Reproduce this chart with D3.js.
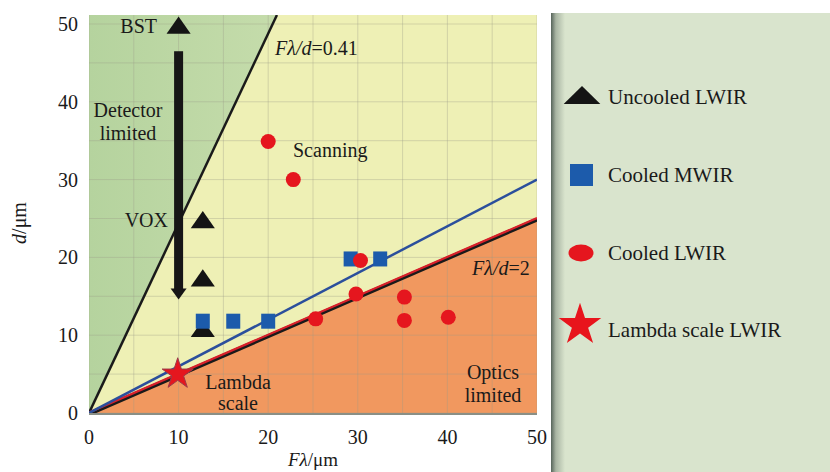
<!DOCTYPE html>
<html><head><meta charset="utf-8">
<script src="https://cdn.jsdelivr.net/npm/d3@7"></script>
<style>
html,body{margin:0;padding:0;background:#fff;}
svg{display:block;}
text{font-family:"Liberation Serif","Times New Roman",serif;fill:#1a1a1a;}
</style></head>
<body>
<svg id="c" width="830" height="472"></svg>
<script>
// ---- data ----
const xTicks = [0, 10, 20, 30, 40, 50];
const yTicks = [0, 10, 20, 30, 40, 50];
const uncooledX = [10, 12.7, 12.7, 12.7];
const uncooledY = [49.5, 24.5, 17, 10.5];
const mwirX = [12.7, 16.1, 20, 29.2, 32.5];
const mwirY = [11.8, 11.8, 11.8, 19.8, 19.8];
const lwirX = [20, 22.8, 30.3, 29.8, 25.3, 35.2, 35.2, 40.1];
const lwirY = [34.9, 30, 19.6, 15.3, 12.1, 14.9, 11.9, 12.3];
const lambdaX = [9.9];
const lambdaY = [5];
const ratioDetector = 0.41;   // Fλ/d = 0.41
const ratioOptics = 2;        // Fλ/d = 2
const ratioBlue = 1 / 0.6;    // blue fit line
const legendNames = ["Uncooled LWIR", "Cooled MWIR", "Cooled LWIR", "Lambda scale LWIR"];
const arrowFrom = [10, 46.5], arrowTo = [10, 14.6];

// ---- scales ----
const svg = d3.select("#c");
const x = d3.scaleLinear().domain([0, 50]).range([89, 537]);
const y = d3.scaleLinear().domain([0, 50]).range([413, 24]);
const yTop = y.invert(15);
const xMax = 50;

const defs = svg.append("defs");
defs.append("clipPath").attr("id", "plotClip").append("rect")
  .attr("x", x(0)).attr("y", y(yTop)).attr("width", x(xMax) - x(0)).attr("height", y(0) - y(yTop));
const gEdge = defs.append("linearGradient").attr("id", "edgeGrad").attr("x1", "0").attr("x2", "1");
gEdge.append("stop").attr("offset", "0").attr("stop-color", "#56645a");
gEdge.append("stop").attr("offset", "0.35").attr("stop-color", "#a9b5a3");
gEdge.append("stop").attr("offset", "1").attr("stop-color", "#d9e4cd");
const gGreen = defs.append("linearGradient").attr("id", "greenGrad").attr("x1", "0").attr("x2", "1");
gGreen.append("stop").attr("offset", "0").attr("stop-color", "#b5d39e");
gGreen.append("stop").attr("offset", "1").attr("stop-color", "#c5dcab");

// ---- legend panel ----
svg.append("rect").attr("x", 551).attr("y", 13).attr("width", 279).attr("height", 459).attr("fill", "#d9e4cd");
svg.append("rect").attr("x", 551).attr("y", 13).attr("width", 14).attr("height", 459).attr("fill", "url(#edgeGrad)");

// ---- plot regions ----
const plot = svg.append("g").attr("clip-path", "url(#plotClip)");
plot.append("rect").attr("x", x(0)).attr("y", y(yTop)).attr("width", x(xMax) - x(0)).attr("height", y(0) - y(yTop)).attr("fill", "#eef0b5");
const line = d3.line().x(d => x(d[0])).y(d => y(d[1]));
plot.append("path").attr("d", line([[0, 0], [0, yTop], [yTop * ratioDetector, yTop]]) + "Z").attr("fill", "url(#greenGrad)");
plot.append("path").attr("d", line([[0, 0], [xMax, 0], [xMax, xMax / ratioOptics]]) + "Z").attr("fill", "#f1985f");

// gridlines
const grid = d3.range(0, 51, 5);
plot.selectAll(".gx").data(grid).join("line")
  .attr("x1", d => x(d)).attr("x2", d => x(d)).attr("y1", y(0)).attr("y2", y(yTop))
  .attr("stroke", "#9c9c86").attr("stroke-opacity", 0.35).attr("stroke-width", 1);
plot.selectAll(".gy").data(grid).join("line")
  .attr("y1", d => y(d)).attr("y2", d => y(d)).attr("x1", x(0)).attr("x2", x(xMax))
  .attr("stroke", "#9c9c86").attr("stroke-opacity", 0.35).attr("stroke-width", 1);
// bottom edge
svg.append("line").attr("x1", x(0)).attr("x2", x(xMax)).attr("y1", y(0) + 1).attr("y2", y(0) + 1)
  .attr("stroke", "#8a8f86").attr("stroke-width", 2);

// reference lines
plot.append("path").attr("d", line([[0, 0], [yTop * ratioDetector, yTop]]))
  .attr("stroke", "#1a1a1a").attr("stroke-width", 2.5).attr("fill", "none");
plot.append("path").attr("d", line([[0, 0], [xMax, xMax / ratioOptics]]))
  .attr("stroke", "#1a1a1a").attr("stroke-width", 4).attr("fill", "none").attr("transform", "translate(0,1)");
plot.append("path").attr("d", line([[0, 0], [xMax, xMax / ratioOptics]]))
  .attr("stroke", "#d8202a").attr("stroke-width", 2.2).attr("fill", "none").attr("transform", "translate(0,-0.5)");
plot.append("path").attr("d", line([[0, 0], [xMax, xMax / ratioBlue]]))
  .attr("stroke", "#2b4f9c").attr("stroke-width", 2.5).attr("fill", "none");

// arrow
const ax = x(arrowFrom[0]);
const headH = 11, headW = 8;
svg.append("rect").attr("x", ax - 4.5).attr("y", y(arrowFrom[1])).attr("width", 9)
  .attr("height", y(arrowTo[1]) - headH - y(arrowFrom[1]) + 1).attr("fill", "#161616");
svg.append("path").attr("d", `M${ax - headW},${y(arrowTo[1]) - headH} L${ax + headW},${y(arrowTo[1]) - headH} L${ax},${y(arrowTo[1])} Z`).attr("fill", "#161616");

// ---- markers ----
const tri = d3.symbol().type(d3.symbolTriangle).size(190);
svg.selectAll(".tri").data(uncooledX.map((v, i) => [v, uncooledY[i]])).join("path")
  .attr("d", tri).attr("transform", d => `translate(${x(d[0])},${y(d[1])}) scale(1.15,0.95)`).attr("fill", "#141414");
svg.selectAll(".sq").data(mwirX.map((v, i) => [v, mwirY[i]])).join("rect")
  .attr("x", d => x(d[0]) - 7).attr("y", d => y(d[1]) - 7.5).attr("width", 14).attr("height", 15).attr("fill", "#1c5bab");
svg.selectAll(".ci").data(lwirX.map((v, i) => [v, lwirY[i]])).join("circle")
  .attr("cx", d => x(d[0])).attr("cy", d => y(d[1])).attr("r", 7.5).attr("fill", "#e5161e");
const star = d3.symbol().type(d3.symbolStar).size(300);
svg.selectAll(".st").data(lambdaX.map((v, i) => [v, lambdaY[i]])).join("path")
  .attr("d", star).attr("transform", d => `translate(${x(d[0])},${y(d[1])})`)
  .attr("fill", "#e5161e").attr("stroke", "#9a3a4a").attr("stroke-width", 1);

// ---- axes ticks ----
svg.selectAll(".xt").data(xTicks).join("text")
  .attr("x", d => x(d)).attr("y", 444).attr("text-anchor", "middle").attr("font-size", 20).text(d => d);
svg.selectAll(".yt").data(yTicks).join("text")
  .attr("x", 78).attr("y", d => y(d) + 7).attr("text-anchor", "end").attr("font-size", 20).text(d => d);

// axis titles
const xt = svg.append("text").attr("x", 313).attr("y", 466).attr("text-anchor", "middle").attr("font-size", 19);
xt.append("tspan").attr("font-style", "italic").text("Fλ");
xt.append("tspan").text("/μm");
const yt = svg.append("text").attr("transform", "translate(26,223) rotate(-90)").attr("text-anchor", "middle").attr("font-size", 20);
yt.append("tspan").attr("font-style", "italic").text("d");
yt.append("tspan").text("/μm");

// ---- annotations ----
function label(tx, ty, str, anchor) {
  svg.append("text").attr("x", tx).attr("y", ty).attr("text-anchor", anchor || "middle").attr("font-size", 20).text(str);
}
label(157, 33, "BST", "end");
label(128, 117, "Detector");
label(128, 140, "limited");
label(168, 227, "VOX", "end");
label(293, 157, "Scanning", "start");
label(493, 379, "Optics");
label(493, 402, "limited");
label(238, 389, "Lambda");
label(238, 410, "scale");
function ratioLabel(tx, ty, val) {
  const t = svg.append("text").attr("x", tx).attr("y", ty).attr("font-size", 20);
  t.append("tspan").attr("font-style", "italic").text("Fλ/d");
  t.append("tspan").text("=" + val);
}
ratioLabel(275, 55, "0.41");
ratioLabel(472, 275, "2");

// ---- legend ----
const legY = [97, 175, 253, 330];
const lg = svg.append("g");
lg.append("path").attr("d", tri).attr("transform", `translate(582,${legY[0] + 1}) scale(1.75,1.0)`).attr("fill", "#141414");
lg.append("rect").attr("x", 570).attr("y", legY[1] - 11).attr("width", 23).attr("height", 22).attr("fill", "#1c5bab");
lg.append("ellipse").attr("cx", 581).attr("cy", legY[2]).attr("rx", 12.5).attr("ry", 8.5).attr("fill", "#e5161e");
lg.append("path").attr("d", d3.symbol().type(d3.symbolStar).size(560)).attr("transform", `translate(580,${legY[3] - 5})`).attr("fill", "#e8141c");
lg.selectAll(".lt").data(legendNames).join("text")
  .attr("x", 608).attr("y", (d, i) => legY[i] + 7).attr("font-size", 21).text(d => d);
</script>
</body></html>
